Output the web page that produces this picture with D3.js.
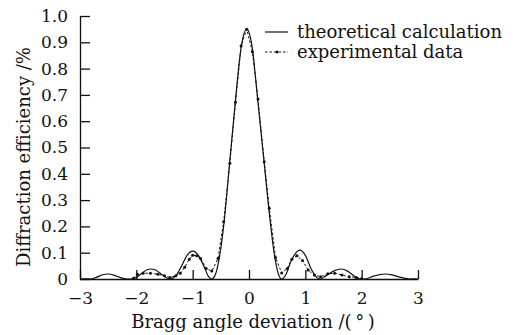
<!DOCTYPE html>
<html>
<head>
<meta charset="utf-8">
<script src="https://cdn.jsdelivr.net/npm/d3@7/dist/d3.min.js"></script>
<style>
  body { margin: 0; background: #fff; }
  svg text { font-family: "DejaVu Serif", "Liberation Serif", serif; fill: #111; }
</style>
</head>
<body>
<script>
// données
var xTicks = [-3, -2, -1, 0, 1, 2, 3];
var yTicks = [0, 0.1, 0.2, 0.3, 0.4, 0.5, 0.6, 0.7, 0.8, 0.9, 1.0];

// courbe théorique (angle, efficacité)
var theoX = [-3.0, -2.9, -2.8, -2.7, -2.6, -2.5, -2.4, -2.3, -2.2, -2.1, -2.0, -1.9, -1.8, -1.75, -1.65, -1.55, -1.45, -1.39,
  -1.3, -1.2, -1.1, -1.0, -0.9, -0.8, -0.72, -0.66, -0.6, -0.52, -0.44, -0.34, -0.24, -0.14, -0.04, 0.05, 0.16, 0.27, 0.35,
  0.46, 0.52, 0.58, 0.65, 0.75, 0.9, 1.0, 1.1, 1.2, 1.26, 1.35, 1.5, 1.64, 1.75, 1.85, 1.95, 2.0, 2.1, 2.2, 2.3, 2.42, 2.55,
  2.7, 2.85, 2.95, 3.0];
var theoY = [0, 0.001, 0, 0.007, 0.016, 0.019, 0.015, 0.007, 0.001, 0, 0.006, 0.022, 0.036, 0.038, 0.033, 0.017, 0.003, 0,
  0.012, 0.048, 0.09, 0.106, 0.09, 0.048, 0.01, 0, 0.015, 0.09, 0.22, 0.45, 0.68, 0.88, 0.95, 0.89, 0.67, 0.44, 0.27,
  0.08, 0.02, 0, 0.015, 0.07, 0.11, 0.09, 0.04, 0.006, 0, 0.01, 0.03, 0.038, 0.03, 0.014, 0.001, 0, 0.002, 0.01, 0.016, 0.019, 0.015,
  0.006, 0, 0.001, 0];

// données expérimentales
var expX = [-2.05, -1.98, -1.88, -1.75, -1.62, -1.5, -1.4, -1.3, -1.22, -1.14, -1.06, -1.0, -0.93, -0.86, -0.76, -0.66,
  -0.55, -0.45, -0.34, -0.24, -0.14, -0.04, 0.06, 0.16, 0.27, 0.36, 0.47, 0.58, 0.68, 0.76, 0.85, 0.95, 1.05, 1.16, 1.27,
  1.4, 1.52, 1.65, 1.78, 1.9, 2.0];
var expY = [0.003, 0.018, 0.022, 0.022, 0.018, 0.012, 0.006, 0.012, 0.022, 0.045, 0.075, 0.09, 0.088, 0.078, 0.04, 0.03,
  0.078, 0.218, 0.44, 0.672, 0.887, 0.95, 0.864, 0.684, 0.446, 0.269, 0.082, 0.023, 0.04, 0.075, 0.088, 0.07, 0.034, 0.015, 0.009,
  0.02, 0.022, 0.015, 0.009, 0.006, 0.002];

var legendLabels = ["theoretical calculation", "experimental data"];

var theo = theoX.map((x, i) => ({x: x, y: theoY[i]}));
var exp = expX.map((x, i) => ({x: x, y: expY[i]}));

var svg = d3.select("body").append("svg")
  .attr("width", 513)
  .attr("height", 335);

// echelles
var x = d3.scaleLinear().domain([-3, 3]).range([80, 418]);
var y = d3.scaleLinear().domain([0, 1]).range([279, 16]);

var yAxis = d3.axisLeft(y)
  .tickValues(yTicks)
  .tickSizeInner(-10)
  .tickSizeOuter(0)
  .tickPadding(12)
  .tickFormat(d => d === 0 ? "0" : d3.format(".1f")(d));

var xAxis = d3.axisBottom(x)
  .tickValues(xTicks)
  .tickSizeInner(-9)
  .tickSizeOuter(0)
  .tickPadding(13)
  .tickFormat(d3.format("d"));

var gy = svg.append("g").attr("transform", "translate(80,0)").call(yAxis);
var gx = svg.append("g").attr("transform", "translate(0,279)").call(xAxis);

[gx, gy].forEach(g => {
  g.selectAll("path, line").attr("stroke", "#111").attr("stroke-width", 1.3);
  g.selectAll("text").attr("font-size", 17).attr("font-family", "DejaVu Serif");
});

// courbes
var line = d3.line().x(d => x(d.x)).y(d => y(d.y)).curve(d3.curveMonotoneX);

svg.append("path")
  .datum(theo)
  .attr("d", line)
  .attr("fill", "none")
  .attr("stroke", "#111")
  .attr("stroke-width", 1.2);

svg.append("path")
  .datum(exp)
  .attr("d", d3.line().x(d => x(d.x)).y(d => y(d.y)))
  .attr("fill", "none")
  .attr("stroke", "#111")
  .attr("stroke-width", 1)
  .attr("stroke-dasharray", "2.5,2");

svg.selectAll(".pt")
  .data(exp)
  .enter().append("circle")
  .attr("class", "pt")
  .attr("cx", d => x(d.x))
  .attr("cy", d => y(d.y))
  .attr("r", 1.5)
  .attr("fill", "#111");

// legende
var legend = svg.append("g");
legend.append("line")
  .attr("x1", 265).attr("x2", 288).attr("y1", 32).attr("y2", 32)
  .attr("stroke", "#111").attr("stroke-width", 1.2);
legend.append("line")
  .attr("x1", 265).attr("x2", 288).attr("y1", 52).attr("y2", 52)
  .attr("stroke", "#111").attr("stroke-width", 1).attr("stroke-dasharray", "2.5,2");
legend.append("circle").attr("cx", 277).attr("cy", 52).attr("r", 1.5).attr("fill", "#111");
legend.selectAll("text")
  .data(legendLabels)
  .enter().append("text")
  .attr("x", 297)
  .attr("y", (d, i) => 38 + i * 20)
  .attr("font-size", 18)
  .text(d => d);

// titres des axes
svg.append("text")
  .attr("x", 253)
  .attr("y", 328)
  .attr("text-anchor", "middle")
  .attr("font-size", 18)
  .text("Bragg angle deviation /(\u2009°\u2009)");

svg.append("text")
  .attr("transform", "translate(30,157) rotate(-90)")
  .attr("text-anchor", "middle")
  .attr("font-size", 18)
  .text("Diffraction efficiency /%");
</script>
</body>
</html>
